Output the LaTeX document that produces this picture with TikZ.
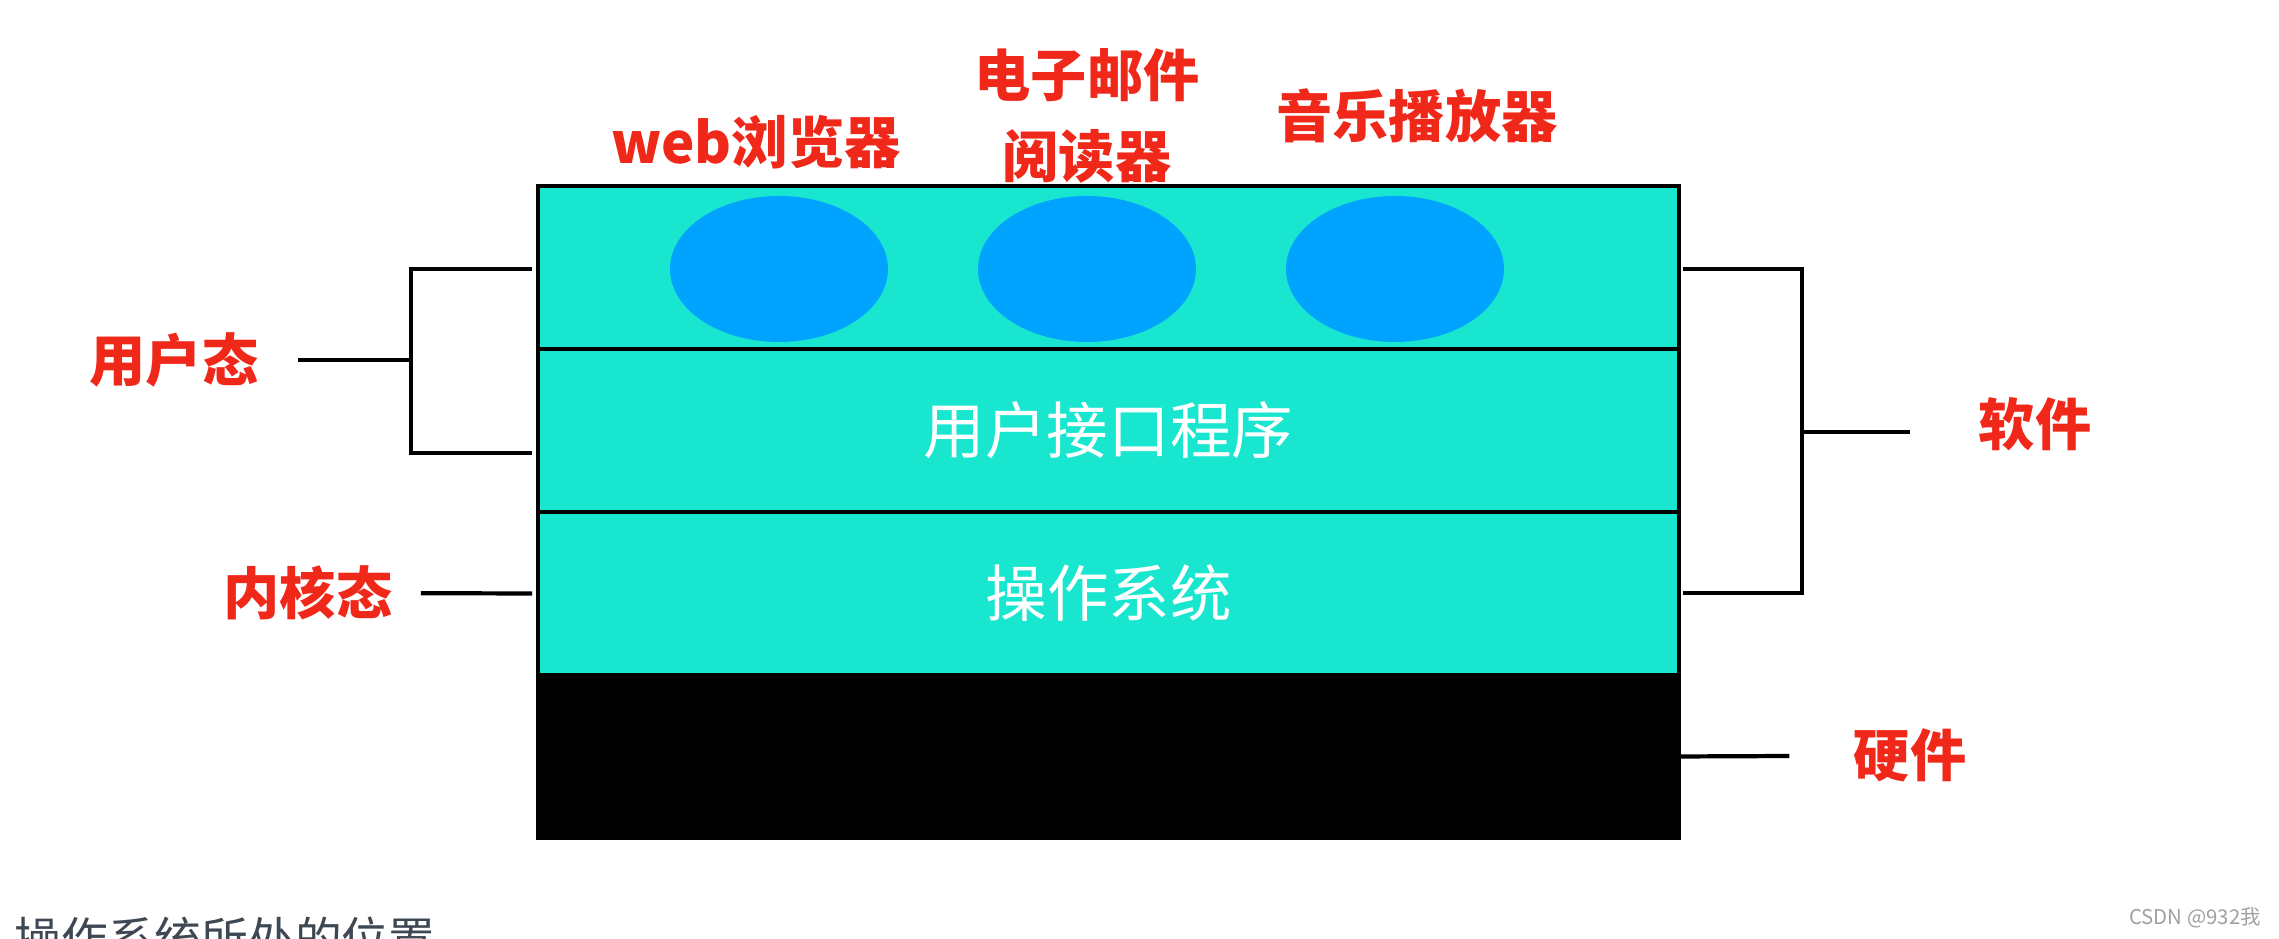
\documentclass[tikz,border=0pt]{standalone}
\usepackage{xcolor}
\usepackage{fontspec}
\usepackage{tikz}
\usetikzlibrary{positioning, shapes.geometric}
\setmainfont{Noto Sans CJK SC}
\definecolor{layerbg}{HTML}{19E6CF}
\definecolor{appbg}{HTML}{00A4FF}
\definecolor{labelred}{HTML}{F0281A}
\definecolor{captiongray}{HTML}{3E4853}
\definecolor{markgray}{HTML}{A0A0A0}

\begin{document}
\begin{tikzpicture}[
    layer/.style={rectangle, draw=black, line width=0.9pt, fill=layerbg, outer sep=0pt, inner sep=0pt,
                  minimum width=11.41cm, minimum height=1.63cm, text=white,
                  font=\fontsize{17.5pt}{20pt}\selectfont},
    app/.style={ellipse, fill=appbg, minimum width=2.18cm, minimum height=1.46cm, inner sep=0pt},
    lbl/.style={text=labelred, align=center, font=\fontsize{16pt}{23pt}\selectfont\bfseries},
    brk/.style={line width=1.2pt, black}
]
\useasboundingbox (0,0) rectangle (22.79,9.39);

\node[layer] (apps) at (11.085,6.715) {};
\node[layer, below=0pt of apps] (ui)  {用户接口程序};
\node[layer, below=0pt of ui]   (os)  {操作系统};
\node[layer, below=0pt of os, fill=black] (hw) {};

\node[app] (web)   at (7.79,6.70)  {};
\node[app] (mail)  at (10.87,6.70) {};
\node[app] (music) at (13.95,6.70) {};

\node[lbl] (webLbl)   at (7.56,7.97)  {web浏览器};
\node[lbl] (mailLbl)  at (10.87,8.23) {电子邮件\\阅读器};
\node[lbl] (musicLbl) at (14.17,8.23) {音乐播放器};

\node[lbl] (usr) at (1.74,5.79)  {用户态};
\node[lbl] (krn) at (3.08,3.46)  {内核态};
\node[lbl] (sw)  at (20.35,5.15) {软件};
\node[lbl] (hwLbl) at (19.10,1.835) {硬件};

\coordinate (usrTop)  at (5.32,6.70);
\coordinate (usrBot)  at (5.32,4.86);
\coordinate (usrJoin) at (4.11,5.79);
\coordinate (swTop)   at (16.83,6.70);
\coordinate (swBot)   at (16.83,3.46);
\coordinate (swJoin)  at (18.02,5.07);

\draw[brk] (usrTop) -| (usrJoin) |- (usrBot);
\draw[brk, shorten <=0.27cm] (usr) -- (usrJoin);
\draw[brk, shorten <=0.16cm, shorten >=0.06cm] (krn) -- (os.west);
\draw[brk] (swTop) -| (swJoin) |- (swBot);
\draw[brk, shorten >=0.56cm] (swJoin) -- (swJoin -| sw.west);
\draw[brk, shorten >=0.52cm] (hw.east) -- (hwLbl);

\node[anchor=base west, inner sep=0pt, text=captiongray, font=\fontsize{13.3pt}{16pt}\selectfont] (caption) at (0.14,-0.18) {操作系统所处的位置};
\node[text=markgray, inner sep=0pt, font=\fontsize{5.8pt}{7pt}\selectfont] (mark) at (21.95,0.21) {CSDN @932我};
\end{tikzpicture}
\end{document}
